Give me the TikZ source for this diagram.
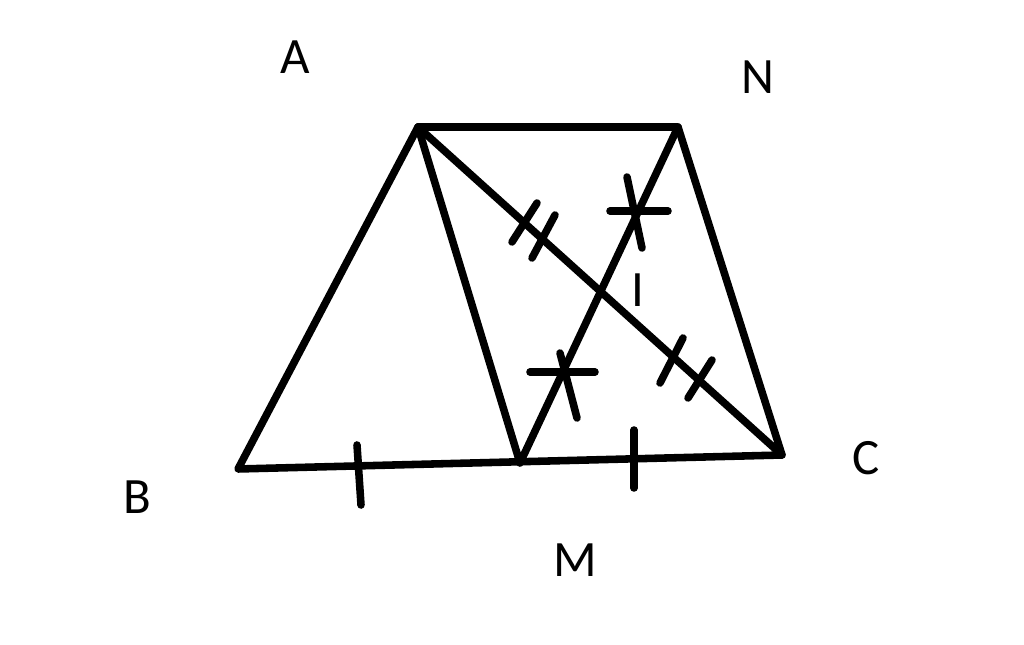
\documentclass[tikz,border=0pt]{standalone}
\usepackage{fontspec}
\setmainfont{Carlito}
\begin{document}
\begin{tikzpicture}[x=0.02cm,y=-0.02cm,line width=4.3pt,line cap=round,line join=round,
  lbl/.style={font=\fontsize{29}{34}\selectfont}]
  \useasboundingbox (0,0) rectangle (1024,645);
  \coordinate (A) at (418,127);
  \coordinate (N) at (678,127);
  \coordinate (B) at (238,469);
  \coordinate (M) at (520,463);
  \coordinate (C) at (782,455);
  \draw (A) -- (N) -- (C) -- (B) -- cycle;
  \draw (A) -- (M) -- (N);
  \draw (A) -- (C);
  \draw (357,445) -- (361,505);
  \draw (634,430) -- (634,488);
  \draw (537,203) -- (512,242);
  \draw (555,215) -- (532,258);
  \draw (683,338) -- (660,383);
  \draw (712,360) -- (688,398);
  \draw (610,211) -- (668,211);
  \draw (627,177) -- (642,248);
  \draw (530,372) -- (595,372);
  \draw (560,353) -- (577,418);
  \node[lbl] (lA) at (295,57)  {A};
  \node[lbl] (lN) at (758,77)  {N};
  \node[lbl] (lB) at (137,497) {B};
  \node[lbl] (lC) at (866,458) {C};
  \node[lbl] (lM) at (575,560) {M};
  \node[lbl] (lI) at (638,290) {I};
\end{tikzpicture}
\end{document}
